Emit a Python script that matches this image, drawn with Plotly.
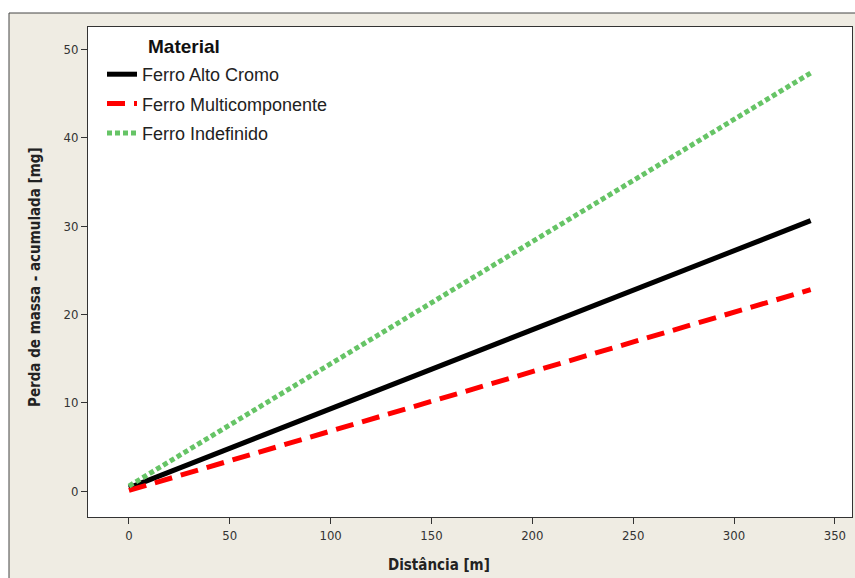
import plotly.graph_objects as go

distancia = [0, 338]
series_names = ["Ferro Alto Cromo", "Ferro Multicomponente", "Ferro Indefinido"]
alto_cromo = [0.4, 30.6]
multicomponente = [0.1, 22.8]
indefinido = [0.6, 47.3]

x_ticks = [0, 50, 100, 150, 200, 250, 300, 350]
y_ticks = [0, 10, 20, 30, 40, 50]

styles = [
    dict(color="#000000", width=5, dash="solid"),
    dict(color="#ff0000", width=5, dash="18px,9px"),
    dict(color="#66c466", width=5, dash="5px,3px"),
]

fig = go.Figure()
for i, (name, vals, st) in enumerate(zip(series_names, [alto_cromo, multicomponente, indefinido], styles)):
    fig.add_trace(go.Scatter(x=distancia, y=vals, mode="lines", name=name, line=st,
                             legendgroup=f"g{i}"))

W, H = 855, 578
L, T, R, B = 88, 27, 852, 517
pw, ph = R - L, B - T

def px_x(p):
    return (p - L) / pw

def px_y(p):
    return 1 - (p - T) / ph

title_font = dict(family="DejaVu Sans Condensed, Liberation Sans", size=15, color="#222222")
tick_font = dict(family="DejaVu Sans Condensed, Liberation Sans", size=13, color="#333333")

fig.update_layout(
    width=W, height=H,
    margin=dict(l=L, r=W - R, t=T, b=H - B),
    paper_bgcolor="white",
    plot_bgcolor="rgba(0,0,0,0)",
    font=dict(family="Liberation Sans, Arial, sans-serif", size=12, color="#333333"),
    showlegend=True,
    legend=dict(
        x=px_x(102), y=px_y(56), xanchor="left", yanchor="top",
        bgcolor="rgba(0,0,0,0)",
        font=dict(size=18, color="#222222"),
        tracegroupgap=3,
    ),
    shapes=[
        dict(type="rect", xref="paper", yref="paper", layer="below",
             x0=px_x(9), x1=px_x(900), y0=px_y(620), y1=px_y(13),
             fillcolor="#efece3", line=dict(color="#444444", width=1)),
        dict(type="rect", xref="paper", yref="paper", layer="below",
             x0=0, x1=1, y0=0, y1=1,
             fillcolor="white", line=dict(width=0)),
    ],
    annotations=[
        dict(text="<b>Material</b>", xref="paper", yref="paper",
             x=px_x(146), y=px_y(46), xanchor="left", yanchor="middle",
             showarrow=False, font=dict(size=19, color="#111111")),
        dict(text="<b>Distância [m]</b>", xref="paper", yref="paper",
             x=px_x(439), y=px_y(565), xanchor="center", yanchor="middle",
             showarrow=False, font=title_font),
        dict(text="<b>Perda de massa - acumulada [mg]</b>", xref="paper", yref="paper",
             x=px_x(35), y=px_y(277), xanchor="center", yanchor="middle",
             textangle=-90, showarrow=False, font=title_font),
    ],
)

fig.update_xaxes(
    range=[-20.3, 358.5], tickvals=x_ticks, showgrid=False, zeroline=False,
    showline=True, linecolor="#333333", linewidth=1, mirror=True,
    ticks="outside", ticklen=6, tickcolor="#333333",
    tickfont=tick_font,
)
fig.update_yaxes(
    range=[-2.9, 52.5], tickvals=y_ticks, showgrid=False, zeroline=False,
    showline=True, linecolor="#333333", linewidth=1, mirror=True,
    ticks="outside", ticklen=6, tickcolor="#333333",
    tickfont=tick_font,
)

fig.write_html(
    "out.html",
    config={"displayModeBar": False},
    post_script="document.body.style.margin='0';document.body.style.overflow='hidden';",
)
